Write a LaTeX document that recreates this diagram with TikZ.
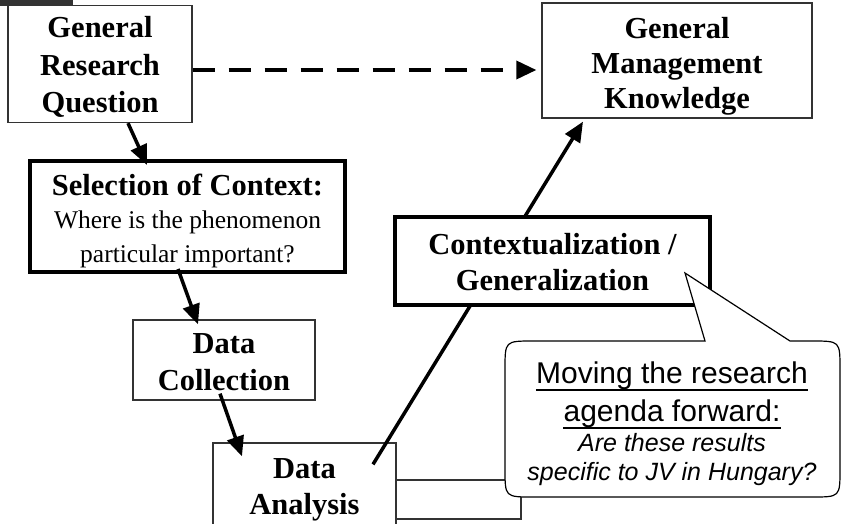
\documentclass[tikz,border=0pt]{standalone}
\usepackage{fontspec}
\setmainfont{Liberation Serif}
\newfontfamily\calloutfont{Liberation Sans}
\usetikzlibrary{arrows.meta}
% struts that fix where the first baseline and the bottom of a text block fall
\newcommand\lift[1]{\rule{0pt}{#1pt}}
\newcommand\sink{\rule[-10pt]{0pt}{0pt}}

\begin{document}
\begin{tikzpicture}[x=1pt,y=-1pt,
  thinbox/.style={draw=black!80, line width=1.3pt, fill=white, inner sep=0pt,
    align=center, font=\fontsize{30.5}{37.5}\selectfont\bfseries},
  thickbox/.style={draw=black, line width=4pt, fill=white, inner sep=0pt, align=center},
  flow/.style={line width=3.5pt, -{Triangle[length=20pt,width=17pt]}},
  callouttext/.style={inner sep=0pt, font=\calloutfont\fontsize{30}{34}\selectfont},
  calloutnote/.style={inner sep=0pt, font=\calloutfont\itshape\fontsize{25}{29}\selectfont},
  underline/.style={line width=1.8pt},
]
\useasboundingbox (0,0) rectangle (842,523);
\clip (0,0) rectangle (842,523);

% dark tab in the upper left corner
\fill[black!80] (0,0) rectangle (73,6);

% boxes of the research process
\node[thinbox, minimum width=184pt, minimum height=102pt] (question) at (100,64)
  {\lift{32}General\\Research\\Question\sink};
\node[thinbox, minimum width=270pt, minimum height=109pt,
  font=\fontsize{30.5}{35}\selectfont\bfseries] (knowledge) at (677,60.5)
  {\lift{35}General\\Management\\Knowledge\sink};
\node[thickbox, minimum width=315pt, minimum height=103pt,
  font=\fontsize{25.5}{33.5}\selectfont] (context) at (187.5,216.5)
  {\lift{34}{\fontsize{30.5}{33.5}\selectfont\bfseries Selection of Context:}\\
   Where is the phenomenon\\particular important?\sink};
\node[thinbox, minimum width=182pt, minimum height=80pt,
  font=\fontsize{30.5}{37}\selectfont\bfseries] (collect) at (224,360)
  {\lift{33}Data\\Collection\sink};

% frame lying behind the analysis box and the callout
\draw[black!80, line width=1.2pt] (300,480) rectangle (521,519);

\node[thinbox, minimum width=183pt, minimum height=87pt,
  font=\fontsize{30.5}{36}\selectfont\bfseries] (analysis) at (304.5,486.5)
  {\lift{29}Data\\Analysis\sink};

% connectors
\draw[line width=3.5pt, dash pattern=on 22pt off 14pt,
  -{Triangle[length=20pt,width=18pt]}, shorten >=5pt]
  ([yshift=-6pt]question.east) -- ([yshift=-6pt]question.east -| knowledge.west);
\draw[flow] ([xshift=28pt]question.south) -- ([xshift=-40.5pt,yshift=-6pt]context.north);
\draw[flow] ([xshift=-9.5pt,yshift=5pt]context.south) -- ([xshift=-26pt,yshift=-5pt]collect.north);
\draw[flow] ([xshift=-4pt,yshift=7pt]collect.south) -- ([xshift=-62.5pt,yshift=-14pt]analysis.north);
\draw[flow] ([xshift=68.5pt,yshift=-22pt]analysis.north) -- ([xshift=-94pt,yshift=-3pt]knowledge.south);

% box laid over the rising connector
\node[thickbox, minimum width=315pt, minimum height=88pt,
  font=\fontsize{30.5}{36}\selectfont\bfseries] (general) at (552.5,261)
  {\lift{32}Contextualization /\\Generalization\sink};

% speech bubble pointing at the generalization box
\draw[black, line width=1.2pt, fill=white]
  (705,341) -- (685,273) -- (790,341) -- (812,341)
  .. controls (840,341) .. (840,369) -- (840,469)
  .. controls (840,497) .. (812,497) -- (533,497)
  .. controls (505,497) .. (505,469) -- (505,369)
  .. controls (505,341) .. (533,341) -- cycle;
\node[callouttext, anchor=base] (agenda1) at (672,383) {Moving the research};
\node[callouttext, anchor=base] (agenda2) at (672,421) {agenda forward:};
\node[calloutnote, anchor=base] (ask1) at (672,451) {Are these results};
\node[calloutnote, anchor=base] (ask2) at (672,480) {specific to JV in Hungary?};
\draw[underline] ([yshift=-7pt]agenda1.base west) -- ([yshift=-7pt]agenda1.base east);
\draw[underline] ([yshift=-7pt]agenda2.base west) -- ([yshift=-7pt]agenda2.base east);
\end{tikzpicture}
\end{document}
